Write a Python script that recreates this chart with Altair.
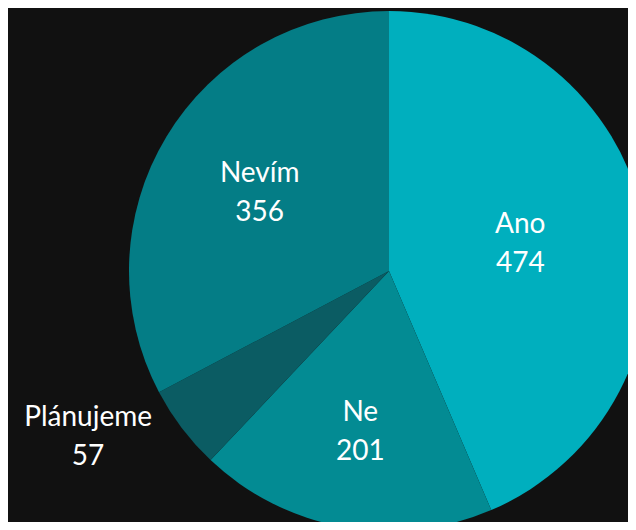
import altair as alt
import pandas as pd

categories = ["Ano", "Ne", "Plánujeme", "Nevím"]
values = [474, 201, 57, 356]
colors = ["#00AFBE", "#038B93", "#0B5C63", "#047D86"]

total = sum(values)
df = pd.DataFrame({"cat": categories, "value": values, "idx": list(range(len(values)))})

base = alt.Chart(df).transform_window(
    end="sum(value)", sort=[alt.SortField("idx")], frame=[None, 0]
).transform_calculate(
    start="datum.end - datum.value",
    mid="datum.end - datum.value / 2",
    label="datum.cat + '\\n' + datum.value",
)

theta_scale = alt.Scale(domain=[0, total])
CX, CY, R = 381, 263, 260

arcs = base.mark_arc(outerRadius=R, strokeWidth=0).encode(
    x=alt.value(CX),
    y=alt.value(CY),
    theta=alt.Theta("start:Q", scale=theta_scale),
    theta2="end:Q",
    color=alt.Color("cat:N", scale=alt.Scale(domain=categories, range=colors), legend=None),
)

def label_layer(cat, r, dx=0, dy=0):
    return base.transform_filter(alt.datum.cat == cat).mark_text(
        font="Lato", fontSize=28, color="white", lineBreak="\n", lineHeight=39,
        align="center", baseline="middle", dx=dx, dy=dy - 19,
    ).encode(
        x=alt.value(CX),
        y=alt.value(CY),
        theta=alt.Theta("mid:Q", scale=theta_scale, stack=None),
        radius=alt.value(r),
        text="label:N",
    )

chart = alt.layer(
    arcs,
    label_layer("Ano", 134),
    label_layer("Ne", 164),
    label_layer("Nevím", 151),
    label_layer("Plánujeme", 344, dx=-27, dy=-42),
).properties(
    width=620, height=514, background="#111111", padding=0,
    autosize=alt.AutoSizeParams(type="none"),
).configure_view(stroke=None)

chart.save("out.html", embed_options={"renderer": "svg", "actions": False})
